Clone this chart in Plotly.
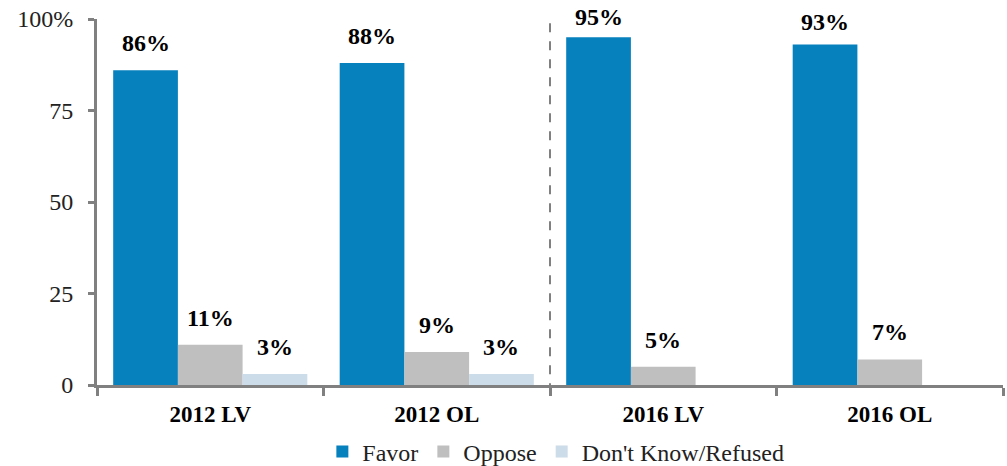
import plotly.graph_objects as go

# Survey support by sample
categories = ["2012 LV", "2012 OL", "2016 LV", "2016 OL"]
favor = [86, 88, 95, 93]
oppose = [11, 9, 5, 7]
dont_know = [3, 3, None, None]

series = [
    ("Favor", favor, "#0780BE"),
    ("Oppose", oppose, "#BFBFBF"),
    ("Don't Know/Refused", dont_know, "#CCDCE8"),
]

y_tick_vals = [0, 25, 50, 75, 100]
y_tick_text = ["0", "25", "50", "75", "100%"]

FONT = "Liberation Serif"
AXIS_GREY = "#808080"

fig = go.Figure()
for name, vals, color in series:
    fig.add_trace(go.Bar(
        name=name, x=categories, y=vals,
        marker=dict(color=color, line=dict(width=0)),
    ))

# Value labels above each bar; labels near the top are tucked closer
# to their bar so they stay inside the figure
n = len(series)
for i, (name, vals, color) in enumerate(series):
    for j, v in enumerate(vals):
        if v is None:
            continue
        shift = 12 - max(0, v - 90) * 1.3
        fig.add_annotation(
            x=j, y=v, xref="x", yref="y",
            xshift=(i - (n - 1) / 2) * 64.7,
            text=f"<b>{v}%</b>", showarrow=False,
            yanchor="bottom", yshift=shift,
            font=dict(family=FONT, size=24, color="black"),
        )

# Dashed divider between 2012 and 2016 samples
fig.add_shape(
    type="line", xref="x", yref="paper",
    x0=1.5, x1=1.5, y0=-0.02, y1=1.0,
    line=dict(color=AXIS_GREY, width=2, dash="dash"),
)

fig.update_layout(
    width=1007, height=466,
    margin=dict(l=97, r=4, t=19, b=81, autoexpand=False),
    paper_bgcolor="white", plot_bgcolor="white",
    barmode="group", bargap=0.143, bargroupgap=0,
    font=dict(family=FONT, color="black"),
    showlegend=True,
    legend=dict(
        orientation="h", x=0.552, xref="container", xanchor="center",
        y=0.03, yref="container", yanchor="middle",
        font=dict(family=FONT, size=24, color="#222"),
        bgcolor="rgba(0,0,0,0)", tracegroupgap=0,
    ),
    xaxis=dict(
        showline=True, linecolor=AXIS_GREY, linewidth=3,
        ticks="outside", tickson="boundaries", ticklen=8,
        tickcolor=AXIS_GREY, tickwidth=3,
        tickfont=dict(family=FONT, size=23, color="black", weight="bold"),
        showgrid=False, zeroline=False, ticklabelstandoff=6,
    ),
    yaxis=dict(
        range=[0, 100], tickvals=y_tick_vals, ticktext=y_tick_text,
        showline=True, linecolor=AXIS_GREY, linewidth=3,
        ticks="outside", ticklen=6, tickcolor=AXIS_GREY, tickwidth=3,
        tickfont=dict(family=FONT, size=24, color="#222"),
        showgrid=False, zeroline=False, ticklabelstandoff=10,
    ),
)

fig.write_html("out.html")
